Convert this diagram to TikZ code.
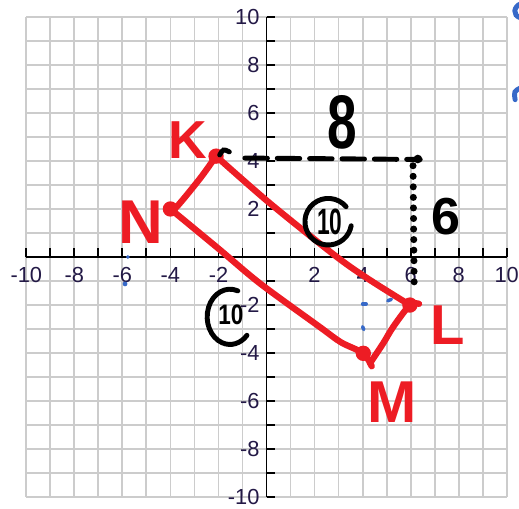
\documentclass[tikz,border=0pt]{standalone}
\usepackage{fontspec}
\setmainfont{Liberation Sans}
\definecolor{penred}{RGB}{237,28,36}
\definecolor{penblue}{RGB}{55,105,200}
\definecolor{axistext}{RGB}{35,25,70}
\tikzset{
  gridline/.style={gray!40,line width=1.3pt},
  axisline/.style={black,line width=1.3pt},
  ticklabel/.style={axistext,inner sep=0pt,font=\fontsize{15.5}{16}\selectfont},
  redpen/.style={penred,line width=4.5pt,line cap=round,line join=round},
  blackpen/.style={black,line width=3.5pt,line cap=round},
  bluepen/.style={penblue,line width=2.5pt,line cap=round},
  penletter/.style={penred,inner sep=0pt},
  penfigure/.style={black,inner sep=0pt}
}
\begin{document}
\begin{tikzpicture}[x=0.6cm,y=0.6cm]
        \useasboundingbox (-11.095,-10.45) rectangle (10.512,10.70);

        % Grid
        \draw[gridline,step=1] (-10,-10) grid (10,10);

        % Axes with ticks
        \draw[axisline] (-10,0) -- (10,0);
        \draw[axisline] (0,-10) -- (0,10);
        \foreach \t in {-10,...,10} {
            \draw[axisline] (\t,0) -- (\t,0.37);
            \draw[axisline] (0,\t) -- (0.37,\t);
        }
        \foreach \t in {-10,-8,...,-2,2,4,...,10} {
            \node[ticklabel] (xl\t) at (\t,-0.75) {\t};
            \node[ticklabel,anchor=east] (yl\t) at (-0.28,\t) {\t};
        }

        % Vertices
        \coordinate (K) at (-2.1,4.2);
        \coordinate (L) at (5.97,-2.0);
        \coordinate (M) at (4.03,-4.01);
        \coordinate (N) at (-4.0,2.0);

        % Hand-drawn rectangle KLMN
        \draw[redpen] plot[smooth,tension=0.5] coordinates {(K) (0.15,2.23) (2.92,0.01) (4.31,-0.96) (L)};
        \draw[redpen] plot[smooth,tension=0.5] coordinates {(N) (-2,0.35) (-0.27,-1.1) (2.2,-2.9) (3.1,-3.55) (M) (4.38,-4.55)};
        \draw[redpen] plot[smooth,tension=0.5] coordinates {(4.31,-4.42) (4.86,-3.59) (5.28,-2.9) (L) (6.35,-1.95)};
        \draw[redpen] plot[smooth,tension=0.5] coordinates {(K) (-2.76,3.28) (-3.74,2.09) (N)};
        \foreach \v in {K,L,M,N}
            \fill[penred] (\v) circle (0.32);

        % Vertex letters
        \node[penletter,font=\bfseries\fontsize{38}{38}\selectfont] (labK) at (-3.27,4.87) {K};
        \node[penletter,font=\bfseries\fontsize{44}{44}\selectfont] (labN) at (-5.22,1.46) {N};
        \node[penletter,font=\bfseries\fontsize{40}{40}\selectfont] (labL) at (7.56,-2.83) {L};
        \node[penletter,font=\bfseries\fontsize{42}{42}\selectfont] (labM) at (5.22,-6.04) {M};

        % Run and rise
        \draw[blackpen] (-1.95,4.25) .. controls (-1.8,4.5) .. (-1.55,4.38);
        \draw[blackpen,dash pattern=on 16pt off 7pt] (-0.9,4.12) -- (6.4,4.06);
        \fill (6.3,4.08) circle (0.18);
        \draw[blackpen,line width=5pt,dash pattern=on 0pt off 7.5pt] (6.1,3.8) -- (6.15,-1.3);
        \node[penfigure,font=\bfseries\fontsize{54}{54}\selectfont] (run) at (3.14,5.62) {\scalebox{0.7}[1]{8}};
        \node[penfigure,font=\bfseries\fontsize{37}{37}\selectfont] (rise) at (7.47,1.67) {6};

        % Circled side lengths
        \draw[blackpen] (2.57,1.47) ++(40:0.97) arc (40:350:0.97);
        \node[penfigure,font=\bfseries\fontsize{26}{26}\selectfont] (sideKL) at (2.64,1.46) {\scalebox{0.62}[1]{10}};
        \draw[blackpen] (-1.52,-2.49) ++(70:0.95 and 1.15) arc (70:318:0.95 and 1.15);
        \node[penfigure,font=\bfseries\fontsize{20}{20}\selectfont] (sideKN) at (-1.48,-2.41) {\scalebox{0.8}[1]{10}};

        % Blue marks
        \draw[bluepen] (4.0,-1.96) -- (4.15,-1.96);
        \draw[bluepen] (5.05,-1.82) -- (5.2,-1.76);
        \draw[bluepen] (4.0,-2.9) -- (4.05,-3.02);
        \fill[penblue] (-5.77,0.0) circle (0.08);
        \fill[penblue] (-5.89,-1.12) circle (0.1);
        \draw[bluepen,line width=3.5pt] (10.6,10.55) .. controls (10.3,10.45) and (10.2,10.05) .. (10.6,9.95);
        \draw[bluepen,line width=3.5pt] (10.6,7.05) .. controls (10.3,6.9) .. (10.35,6.55);
    \end{tikzpicture}
\end{document}
